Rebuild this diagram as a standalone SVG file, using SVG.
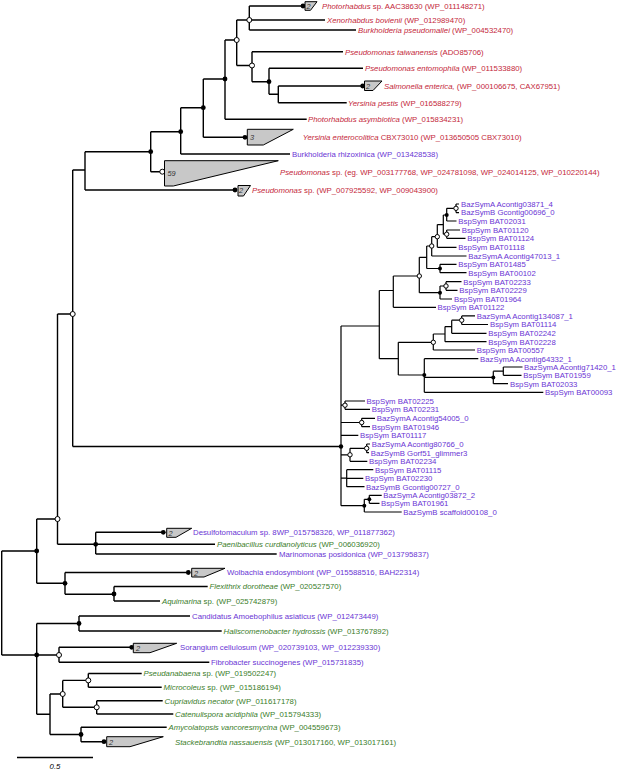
<svg xmlns="http://www.w3.org/2000/svg" width="617" height="771" viewBox="0 0 617 771">
<style>
.e{stroke:#000;stroke-width:1.4;fill:none}
.eb{stroke:#000;stroke-width:1.2;fill:none}
.f{fill:#000}
.o{fill:#fff;stroke:#000;stroke-width:1}
.c{fill:#c8c8c8;stroke:#000;stroke-width:1}
text{font-family:"Liberation Sans",Arial,sans-serif;font-size:7.8px}
.n{font-size:7.4px;fill:#333;font-style:italic}
.r{fill:#c4283a}
.p{fill:#6a35d4}
.g{fill:#3a7d2a}
.i{font-style:italic}
</style>
<rect width="617" height="771" fill="#fff"/>
<g id="connectors">
<path class="e" d="M1.7 551V655M1.7 551H36.7M1.7 655H36.7M36.7 519V583.3M36.7 519H57.5M36.7 583.3H65M57.5 314V544.3M57.5 314H72.7M57.5 544.3H95.7M72.7 170V446.5M72.7 170H85M72.7 446.5H341M85 151.7V190M85 151.7H150.7M85 190H235M150.7 131.7V171.7M150.7 131.7H180.7M150.7 171.7H162.3M180.7 107.7V154M180.7 107.7H203.3M180.7 154H290M203.3 79V137.3M203.3 79H225M203.3 137.3H245M225 40V119.3M225 40H236.7M225 119.3H306.7M236.7 20V65.5M236.7 20H249.3M236.7 65.5H252M249.3 6V30M249.3 6H303M249.3 20H325M249.3 30H356M252 51.7V81.7M252 51.7H343M252 81.7H269M269 68.3V94.3M269 68.3H363M269 94.3H278.3M278.3 86V102.7M278.3 86H362.7M278.3 102.7H346.7"/>
<path class="e" d="M95.7 532.3V554M95.7 532.3H163.3M95.7 544.3H215M95.7 554H276.7M65 572.5V594.3M65 572.5H188.3M65 594.3H114M114 586.5V601M114 586.5H207.7M114 601H160M36.7 623.5V714.2M36.7 623.5H79M36.7 655H59M36.7 714.2H50M79 616V631M79 616H190M79 631H221.7M59 647.3V662.3M59 647.3H131.7M59 662.3H209.3M50 694V734.5M50 694H62.7M50 734.5H81M62.7 680.4V707.3M62.7 680.4H88.3M62.7 707.3H96.7M88.3 673.5V687.3M88.3 673.5H141.7M88.3 687.3H161.7M96.7 700.7V714M96.7 700.7H162.7M96.7 714H173.3M81 727.3V741.7M81 727.3H166.7M81 741.7H104"/>
<path class="eb" d="M456 204V212.6M446.7 208.3V221M446.7 230V238.3M443.3 215V234.2M437.3 224.6V247.3M431.7 236.7V256M440 264.3V272.7M426.7 246V268.5M446 281.7V290.3M440 286V299M419.3 257.3V292.7M393.3 276V307.3M461.7 315.9V324.5M451.7 320.2V333.3M445 326.6V341.7M433.3 334V350M503.3 367V375.3M493.3 371.2V383.7M424.3 358.7V392.3M398.3 342.3V375M379.3 290.5V358.7M345 401V409.3M361.7 418.3V426.7M366.7 444V452.7M350 448.3V461.3M346.7 469.7V486.7M369.3 495.3V503.3M364.3 499.3V512M341 326V505.7"/>
<path class="eb" d="M443.3 215H446.7M446.7 208.3H456M443.3 234.2H446.7M437.3 224.6H443.3M431.7 236.7H437.3M426.7 246H431.7M426.7 268.5H440M419.3 257.3H426.7M440 286H446M419.3 292.7H440M393.3 276H419.3M379.3 290.5H393.3M451.7 320.2H461.7M445 326.6H451.7M433.3 334H445M398.3 342.3H433.3M493.3 371.2H503.3M424.3 377.4H493.3M398.3 375H424.3M379.3 358.7H398.3M341 326H379.3M341 405.2H345M341 422.5H361.7M350 448.3H366.7M341 454.8H350M341 478.2H346.7M364.3 499.3H369.3M341 505.7H364.3"/>
<path class="eb" d="M456 204H459M456 212.6H459M446.7 221H456.5M446.7 230H460M446.7 238.3H465.5M437.3 247.3H456.5M431.7 256H466.5M440 264.3H456.5M440 272.7H466.5M446 281.7H461.5M446 290.3H457.5M440 299H452M393.3 307.3H436M461.7 315.9H475M461.7 324.5H488M451.7 333.3H486.5M445 341.7H486.5M433.3 350H475M424.3 358.7H478.3M503.3 367H522.5M503.3 375.3H521.5M493.3 383.7H508M424.3 392.3H543.3M345 401H365M345 409.3H370M361.7 418.3H375M361.7 426.7H370M341 435.3H358.3M366.7 444H370M366.7 452.7H369M350 461.3H367.3M346.7 469.7H373.3M346.7 478.3H363.3M346.7 486.7H364.5M369.3 495.3H381.7M369.3 503.3H379.5M364.3 512H401.7"/>
</g>
<g id="nodes">
<circle class="f" cx="269" cy="81.7" r="2.4"/>
<circle class="f" cx="225" cy="79" r="2.4"/>
<circle class="f" cx="203.3" cy="107.7" r="2.4"/>
<circle class="f" cx="180.7" cy="131.7" r="2.4"/>
<circle class="f" cx="150.7" cy="151.7" r="2.4"/>
<circle class="o" cx="249.3" cy="20" r="2.5"/>
<circle class="o" cx="236.7" cy="40" r="2.5"/>
<circle class="o" cx="252" cy="65.5" r="2.5"/>
<circle class="o" cx="72.7" cy="314" r="2.5"/>
<circle class="o" cx="57.5" cy="519" r="2.5"/>
<circle class="f" cx="95.7" cy="544.3" r="2.4"/>
<circle class="f" cx="36.7" cy="551" r="2.4"/>
<circle class="f" cx="65" cy="583.3" r="2.4"/>
<circle class="f" cx="114" cy="594" r="2.4"/>
<circle class="f" cx="79" cy="623.5" r="2.4"/>
<circle class="f" cx="36.7" cy="655" r="2.4"/>
<circle class="o" cx="59" cy="655" r="2.5"/>
<circle class="o" cx="88.3" cy="680.4" r="2.5"/>
<circle class="o" cx="62.7" cy="694" r="2.5"/>
<circle class="o" cx="96.7" cy="707.3" r="2.5"/>
<circle class="f" cx="81" cy="734.5" r="2.4"/>
<circle class="f" cx="341" cy="446.5" r="2.2"/>
<circle class="f" cx="446.7" cy="215" r="2"/>
<circle class="f" cx="440" cy="268.5" r="2"/>
<circle class="f" cx="440" cy="292.7" r="2"/>
<circle class="f" cx="424.3" cy="375" r="2"/>
<circle class="f" cx="493.3" cy="377.4" r="2"/>
<circle class="f" cx="364.3" cy="505.7" r="2"/>
<circle class="f" cx="369.3" cy="499.3" r="2"/>
<circle class="o" cx="456" cy="208.3" r="2.2"/>
<circle class="o" cx="446.7" cy="234.2" r="2.2"/>
<circle class="o" cx="437.3" cy="236.7" r="2.2"/>
<circle class="o" cx="431.7" cy="246" r="2.2"/>
<circle class="o" cx="419.3" cy="276" r="2.2"/>
<circle class="o" cx="446" cy="286" r="2.2"/>
<circle class="o" cx="461.7" cy="320.2" r="2.2"/>
<circle class="o" cx="433.3" cy="342.3" r="2.2"/>
<circle class="o" cx="345" cy="405.2" r="2.2"/>
<circle class="o" cx="361.7" cy="422.5" r="2.2"/>
<circle class="o" cx="350" cy="454.8" r="2.2"/>
<circle class="o" cx="366.7" cy="448.3" r="2.2"/>
</g>
<g id="leaf-photorhabdus-sp">
<circle class="f" cx="303" cy="6" r="2.4"/>
<polygon class="c" points="305,1.7 317,1.7 310.5,10.3 305,10.3"/>
<text class="n" x="306.5" y="8.8">2</text>
<text class="r" x="322" y="8.8"><tspan class="i">Photorhabdus</tspan> sp. AAC38630 (WP_011148271)</text>
</g>
<g id="leaf-xenorhabdus"><text class="r" x="327" y="22.8"><tspan class="i">Xenorhabdus bovienii</tspan> (WP_012989470)</text></g>
<g id="leaf-burkholderia-ps"><text class="r" x="358" y="32.8"><tspan class="i">Burkholderia pseudomallei</tspan> (WP_004532470)</text></g>
<g id="leaf-ps-taiwanensis"><text class="r" x="345" y="54.5"><tspan class="i">Pseudomonas taiwanensis</tspan> (ADO85706)</text></g>
<g id="leaf-ps-entomophila"><text class="r" x="365" y="71.1"><tspan class="i">Pseudomonas entomophila</tspan> (WP_011533880)</text></g>
<g id="leaf-salmonella">
<circle class="f" cx="362.7" cy="86" r="2.4"/>
<polygon class="c" points="364.5,81 382,81 373,90.5 364.5,90.5"/>
<text class="n" x="366" y="88.7">2</text>
<text class="r" x="384" y="88.8"><tspan class="i">Salmonella enterica,</tspan> (WP_000106675, CAX67951)</text>
</g>
<g id="leaf-yersinia-pestis"><text class="r" x="348" y="105.5"><tspan class="i">Yersinia pestis</tspan> (WP_016588279)</text></g>
<g id="leaf-photorhabdus-asym"><text class="r" x="308" y="122.1"><tspan class="i">Photorhabdus asymbiotica</tspan> (WP_015834231)</text></g>
<g id="leaf-yersinia-ent">
<circle class="f" cx="245" cy="137.3" r="2.4"/>
<polygon class="c" points="247.3,129.3 293.3,129.3 263.3,145 247.3,145"/>
<text class="n" x="250" y="140">3</text>
<text class="r" x="302.7" y="140.1"><tspan class="i">Yersinia enterocolitica</tspan> CBX73010 (WP_013650505 CBX73010)</text>
</g>
<g id="leaf-burkholderia-rh"><text class="p" x="292" y="156.8">Burkholderia rhizoxinica (WP_013428538)</text></g>
<g id="leaf-pseudomonas-59">
<circle class="o" cx="162.3" cy="171.7" r="2.5"/>
<polygon class="c" points="164.5,160.7 278.3,160.7 173.3,186 164.5,186"/>
<text class="n" x="167.5" y="175.5">59</text>
<text class="r" x="280" y="174.5"><tspan class="i">Pseudomonas</tspan> sp. (eg. WP_003177768, WP_024781098, WP_024014125, WP_010220144)</text>
</g>
<g id="leaf-pseudomonas-2">
<circle class="f" cx="235" cy="190" r="2.4"/>
<polygon class="c" points="238,185.5 250.5,185.5 243.5,196 238,196"/>
<text class="n" x="239" y="193">2</text>
<text class="r" x="252" y="192.8"><tspan class="i">Pseudomonas</tspan> sp. (WP_007925592, WP_009043900)</text>
</g>
<g id="bat-leaves">
<text class="p" x="461" y="206.8">BazSymA Acontig03871_4</text>
<text class="p" x="461" y="215.4">BazSymB Gcontig00696_0</text>
<text class="p" x="458.3" y="223.8">BspSym BAT02031</text>
<text class="p" x="461.7" y="232.8">BspSym BAT01120</text>
<text class="p" x="467.3" y="241.1">BspSym BAT01124</text>
<text class="p" x="458.3" y="250.1">BspSym BAT01118</text>
<text class="p" x="468.3" y="258.8">BazSymA Acontig47013_1</text>
<text class="p" x="458.3" y="267.1">BspSym BAT01485</text>
<text class="p" x="468.3" y="275.5">BspSym BAT00102</text>
<text class="p" x="463.3" y="284.5">BspSym BAT02233</text>
<text class="p" x="459.3" y="293.1">BspSym BAT02229</text>
<text class="p" x="454" y="301.8">BspSym BAT01964</text>
<text class="p" x="437.5" y="310.1">BspSym BAT01122</text>
<text class="p" x="476.7" y="318.7">BazSymA Acontig134087_1</text>
<text class="p" x="490" y="327.3">BspSym BAT01114</text>
<text class="p" x="488.3" y="336.1">BspSym BAT02242</text>
<text class="p" x="488.3" y="344.5">BspSym BAT02228</text>
<text class="p" x="476.7" y="352.8">BspSym BAT00557</text>
<text class="p" x="480" y="361.5">BazSymA Acontig64332_1</text>
<text class="p" x="524" y="369.8">BazSymA Acontig71420_1</text>
<text class="p" x="523.3" y="378.1">BspSym BAT01959</text>
<text class="p" x="510" y="386.5">BspSym BAT02033</text>
<text class="p" x="545" y="395.1">BspSym BAT00093</text>
<text class="p" x="366.5" y="403.8">BspSym BAT02225</text>
<text class="p" x="371.7" y="412.1">BspSym BAT02231</text>
<text class="p" x="376.7" y="421.1">BazSymA Acontig54005_0</text>
<text class="p" x="371.7" y="429.5">BspSym BAT01946</text>
<text class="p" x="360" y="438.1">BspSym BAT01117</text>
<text class="p" x="371.7" y="446.8">BazSymA Acontig80766_0</text>
<text class="p" x="370.7" y="455.5">BazSymB Gorf51_glimmer3</text>
<text class="p" x="369" y="464.1">BspSym BAT02234</text>
<text class="p" x="375" y="472.5">BspSym BAT01115</text>
<text class="p" x="365" y="481.1">BspSym BAT02230</text>
<text class="p" x="366" y="489.5">BazSymB Gcontig00727_0</text>
<text class="p" x="383.3" y="498.1">BazSymA Acontig03872_2</text>
<text class="p" x="381" y="506.1">BspSym BAT01961</text>
<text class="p" x="403.3" y="514.8">BazSymB scaffold00108_0</text>
</g>
<g id="leaf-desulfotomaculum">
<circle class="f" cx="163.3" cy="532.3" r="2.4"/>
<polygon class="c" points="166.7,528.3 191.7,528.3 176,537.3 166.7,537.3"/>
<text class="n" x="168.5" y="535.5">2</text>
<text class="p" x="193" y="535.1">Desulfotomaculum sp. 8WP_015758326, WP_011877362)</text>
</g>
<g id="leaf-paenibacillus"><text class="g" x="217" y="547.1"><tspan class="i">Paenibacillus curdlanolyticus</tspan> (WP_006036920)</text></g>
<g id="leaf-marinomonas"><text class="p" x="279" y="556.8">Marinomonas posidonica (WP_013795837)</text></g>
<g id="leaf-wolbachia">
<circle class="f" cx="188.3" cy="572.5" r="2.4"/>
<polygon class="c" points="191.7,568.3 225,568.3 204,577 191.7,577"/>
<text class="n" x="194" y="575.5">2</text>
<text class="p" x="227" y="575.3">Wolbachia endosymbiont (WP_015588516, BAH22314)</text>
</g>
<g id="leaf-flexithrix"><text class="g" x="209.5" y="589.3"><tspan class="i">Flexithrix dorotheae</tspan> (WP_020527570)</text></g>
<g id="leaf-aquimarina"><text class="g" x="162" y="603.8"><tspan class="i">Aquimarina</tspan> sp. (WP_025742879)</text></g>
<g id="leaf-candidatus"><text class="p" x="192" y="618.8">Candidatus Amoebophilus asiaticus (WP_012473449)</text></g>
<g id="leaf-haliscomenobacter"><text class="g" x="223.5" y="633.8"><tspan class="i">Haliscomenobacter hydrossis</tspan> (WP_013767892)</text></g>
<g id="leaf-sorangium">
<circle class="f" cx="131.7" cy="647.3" r="2.4"/>
<polygon class="c" points="133.3,643.3 176.7,643.3 150,652.7 133.3,652.7"/>
<text class="n" x="136" y="650.5">2</text>
<text class="p" x="180" y="650.1">Sorangium cellulosum (WP_020739103, WP_012239330)</text>
</g>
<g id="leaf-fibrobacter"><text class="p" x="211" y="665.1">Fibrobacter succinogenes (WP_015731835)</text></g>
<g id="leaf-pseudanabaena"><text class="g" x="143.5" y="676.3"><tspan class="i">Pseudanabaena</tspan> sp. (WP_019502247)</text></g>
<g id="leaf-microcoleus"><text class="g" x="163.5" y="690.1"><tspan class="i">Microcoleus</tspan> sp. (WP_015186194)</text></g>
<g id="leaf-cupriavidus"><text class="g" x="164.5" y="703.5"><tspan class="i">Cupriavidus necator</tspan> (WP_011617178)</text></g>
<g id="leaf-catenulispora"><text class="g" x="175" y="716.8"><tspan class="i">Catenulispora acidiphila</tspan> (WP_015794333)</text></g>
<g id="leaf-amycolatopsis"><text class="g" x="168.5" y="730.1"><tspan class="i">Amycolatopsis vancoresmycina</tspan> (WP_004559673)</text></g>
<g id="leaf-stackebrandtia">
<circle class="f" cx="104" cy="741.7" r="2.4"/>
<polygon class="c" points="106.7,736.7 163.3,736.7 130,746.7 106.7,746.7"/>
<text class="n" x="109" y="744.5">2</text>
<text class="g" x="175" y="744.5"><tspan class="i">Stackebrandtia nassauensis</tspan> (WP_013017160, WP_013017161)</text>
</g>
<g id="scale-bar">
<path class="e" d="M17 757.5H93"/>
<text x="55" y="769" text-anchor="middle" font-style="italic" fill="#000">0.5</text>
</g>
</svg>
